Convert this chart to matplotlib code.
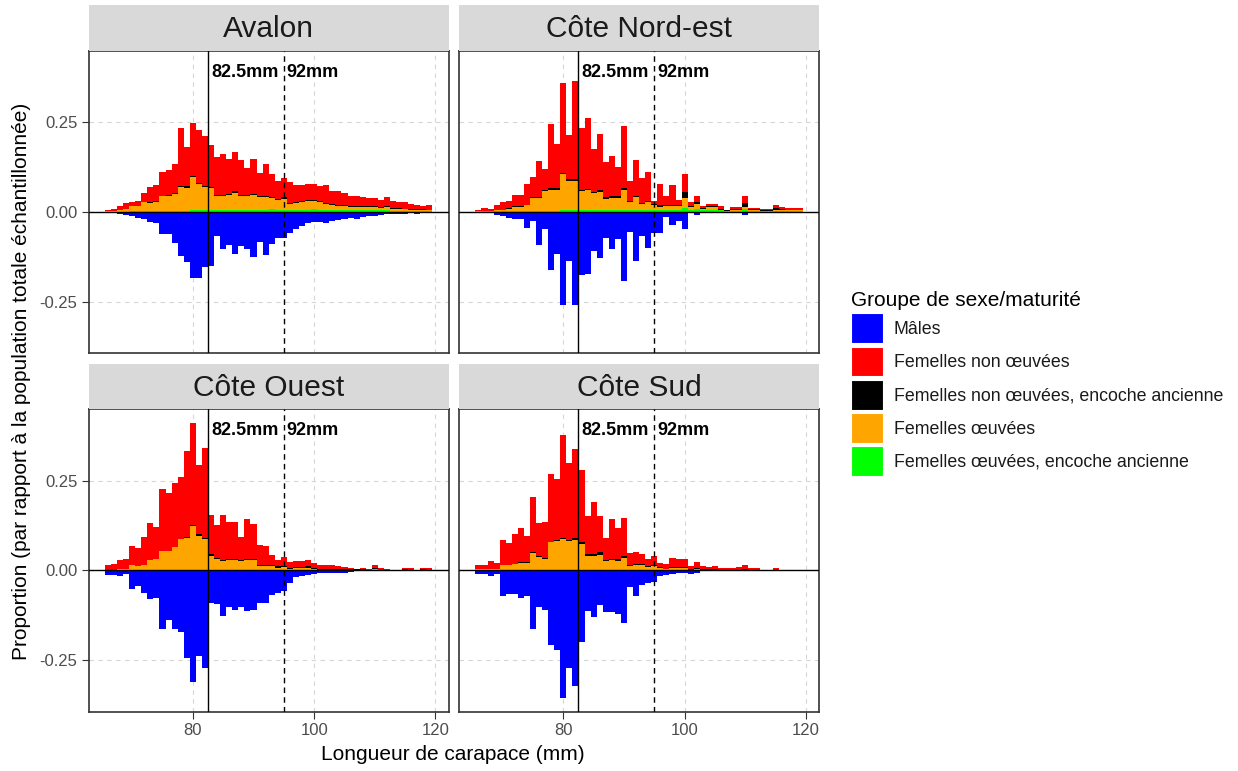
import matplotlib
matplotlib.use("Agg")
import matplotlib.pyplot as plt
from matplotlib.patches import Patch
import numpy as np

plt.rcParams["font.family"] = ["Liberation Sans", "DejaVu Sans"]
plt.rcParams["axes.unicode_minus"] = False

# carapace length bins (mm)
LENGTHS = np.arange(66, 120)

REGIONS = ["Avalon", "Côte Nord-est", "Côte Ouest", "Côte Sud"]
GROUPS = ["Mâles", "Femelles non œuvées", "Femelles non œuvées, encoche ancienne",
          "Femelles œuvées", "Femelles œuvées, encoche ancienne"]
COLORS = ["#0000FF", "#FF0000", "#000000", "#FFA500", "#00FF00"]

# --- Avalon ---
avalon_males = [.001, .002, .005, .009, .011, .017, .021, .028, .030, .061, .061, .086, .122, .141,
                .185, .185, .155, .150, .067, .104, .093, .117, .095, .104, .125, .084, .120, .090,
                .072, .074, .060, .049, .040, .032, .029, .029, .030, .026, .023, .021, .017, .019,
                .015, .012, .011, .010, .007, .006, .006, .006, .004, .007, .003, .001]
avalon_nonoeuv = [.001, .005, .012, .017, .012, .014, .024, .042, .046, .065, .069, .081, .161, .110,
                  .147, .147, .137, .117, .105, .113, .096, .110, .096, .075, .096, .065, .088, .066,
                  .049, .054, .057, .047, .045, .044, .044, .042, .049, .034, .038, .033, .027, .027,
                  .024, .021, .023, .021, .024, .018, .017, .018, .014, .011, .009, .013]
avalon_nonoeuv_enc = [0, 0, 0, 0, 0, 0, .001, .002, .002, .002, .002, .003, .003, .004,
                      .004, .004, .003, .003, .003, .003, .004, .004, .003, .003, .004, .003, .004, .003,
                      .003, .004, .003, .003, .003, .003, .003, .003, .003, .003, .003, .003, .003, .003,
                      .003, .003, .003, .003, .004, .003, .002, .002, .002, .002, .002, .001]
avalon_oeuv = [.003, .003, .004, .008, .014, .014, .025, .023, .025, .040, .041, .046, .065, .064,
               .092, .072, .066, .062, .041, .041, .042, .049, .041, .039, .042, .036, .036, .028,
               .028, .031, .017, .019, .021, .023, .021, .021, .017, .016, .013, .011, .009, .009,
               .009, .009, .009, .006, .008, .005, .005, .004, .003, .003, .003, .002]
avalon_oeuv_enc = [0, 0, 0, 0, .001, .001, .001, .002, .002, .003, .003, .003, .003, .003,
                   .004, .004, .004, .004, .004, .004, .004, .004, .004, .004, .004, .004, .005, .009,
                   .005, .005, .005, .005, .005, .006, .008, .005, .005, .004, .004, .004, .004, .004,
                   .004, .004, .004, .004, .004, .003, .003, .003, .003, .003, .003, .003]

# --- Côte Nord-est ---
nordest_males = [.003, .003, .004, .009, .012, .017, .021, .021, .046, .026, .093, .049, .162, .118,
                 .260, .137, .260, .177, .174, .108, .130, .074, .104, .076, .193, .056, .136, .067,
                 .100, .060, .058, .014, .038, .026, .049, .003, .008, .002, .002, .002, .002, .001,
                 .001, .002, .009, .001, .001, .001, .001, .001, .001, .001, 0, 0]
nordest_nonoeuv = [.004, .007, .005, .014, .022, .020, .031, .031, .058, .058, .102, .059, .179, .125,
                   .251, .123, .273, .173, .198, .119, .156, .098, .112, .083, .173, .056, .099, .069,
                   .082, .008, .060, .025, .055, .014, .052, .012, .016, .007, .007, .007, .008, .002,
                   .006, .006, .018, .003, .002, .002, .002, .009, .006, .004, .004, .004]
nordest_nonoeuv_enc = [0, 0, 0, 0, .001, .001, .001, .001, .001, .002, .002, .002, .003, .003,
                       .003, .004, .003, .003, .004, .004, .005, .004, .004, .004, .004, .003, .004, .003,
                       .004, .004, .004, .003, .003, .004, .016, .003, .005, .002, .003, .003, .002, .002,
                       .003, .003, .012, .003, .003, .003, .003, .004, .003, .002, .002, .002]
nordest_oeuv = [.002, .002, .002, .004, .003, .007, .012, .012, .016, .035, .035, .055, .059, .059,
                .100, .082, .083, .053, .056, .047, .051, .032, .035, .035, .056, .023, .037, .018,
                .022, .014, .010, .011, .012, .010, .028, .006, .014, .003, .006, .006, .002, 0,
                .002, .002, .006, .002, .002, .001, .001, .003, .003, .002, .002, .002]
nordest_oeuv_enc = [0, .001, .001, .001, .002, .002, .002, .002, .003, .003, .003, .003, .003, .003,
                    .004, .004, .004, .004, .004, .004, .004, .004, .004, .004, .005, .004, .004, .004,
                    .004, .004, .004, .004, .005, .006, .010, .006, .008, .005, .006, .006, .004, .002,
                    .003, .003, .007, .003, .003, .002, .002, .003, .002, .002, .002, .002]

# --- Côte Ouest ---
ouest_males = [.012, .012, .016, .009, .053, .044, .062, .079, .077, .164, .138, .164, .171, .245,
               .310, .238, .271, .091, .093, .127, .103, .110, .103, .112, .110, .091, .091, .068,
               .064, .058, .034, .019, .015, .013, .009, .006, .007, .007, .007, .008, .004, .002,
               .002, .001, .001, .001, .001, 0, 0, 0, 0, 0, 0, 0]
ouest_nonoeuv = [.016, .019, .025, .028, .053, .049, .078, .101, .088, .171, .160, .178, .171, .239,
                 .285, .192, .251, .107, .091, .123, .102, .103, .063, .111, .095, .055, .052, .029,
                 .018, .024, .015, .016, .016, .016, .014, .011, .011, .011, .008, .007, .003, .002,
                 .003, .002, .008, .005, .003, 0, 0, .002, .004, 0, .002, .004]
ouest_nonoeuv_enc = [0, 0, 0, 0, 0, 0, .001, .001, .001, .001, .001, .001, .002, .002,
                     .002, .003, .004, .005, .004, .004, .004, .004, .005, .005, .005, .004, .004, .004,
                     .004, .004, .003, .003, .003, .004, .003, .003, .003, .003, .003, .003, .003, .003,
                     .003, .002, .003, .002, .002, .002, 0, .002, .002, 0, .002, 0]
ouest_oeuv = [0, 0, .003, .005, .014, .012, .014, .029, .032, .054, .054, .064, .086, .091,
              .123, .097, .086, .041, .031, .026, .029, .028, .025, .026, .028, .011, .011, .011,
              .008, .009, .005, .007, .007, .008, .004, .002, .002, 0, 0, 0, 0, 0,
              0, 0, .002, 0, 0, 0, 0, .002, 0, 0, .002, .002]
ouest_oeuv_enc = [0, 0, 0, 0, 0, 0, 0, 0, 0, 0, 0, 0, 0, 0,
                  0, 0, 0, 0, 0, 0, 0, 0, 0, .002, 0, 0, 0, 0,
                  0, 0, 0, 0, 0, 0, 0, 0, 0, 0, 0, 0, 0, 0,
                  0, 0, .001, 0, 0, 0, 0, 0, 0, 0, 0, 0]

# --- Côte Sud ---
sud_males = [.011, .011, .017, .009, .072, .065, .065, .077, .070, .164, .103, .110, .208, .222,
             .355, .271, .322, .199, .112, .131, .097, .115, .115, .121, .146, .047, .070, .042,
             .035, .033, .016, .014, .009, .007, .006, .009, .007, .002, .001, .001, .001, 0,
             0, 0, 0, 0, 0, 0, 0, 0, 0, 0, 0, 0]
sud_nonoeuv = [.012, .012, .023, .015, .069, .062, .084, .095, .073, .153, .093, .101, .188, .169,
               .287, .214, .249, .200, .105, .145, .100, .059, .111, .085, .105, .034, .032, .028,
               .020, .025, .010, .014, .024, .021, .021, .010, .017, .008, .006, .008, .005, .004,
               .004, .007, .011, .005, .004, 0, 0, .004, 0, 0, 0, 0]
sud_nonoeuv_enc = [0, 0, 0, 0, 0, 0, 0, .001, .001, .002, .002, .002, .002, .003,
                   .003, .004, .006, .006, .005, .005, .006, .004, .005, .005, .006, .003, .004, .003,
                   .003, .004, .003, .002, .003, .003, .003, .001, .003, .002, .002, .002, .002, .002,
                   .002, .002, .003, .002, .002, 0, 0, .002, 0, 0, 0, 0]
sud_oeuv = [.003, .003, .003, .005, .015, .015, .017, .021, .021, .048, .038, .033, .078, .082,
            .087, .081, .084, .074, .040, .040, .044, .026, .028, .027, .034, .012, .014, .014,
            .009, .011, .007, .003, .007, .007, .007, .002, .003, .002, .001, .001, 0, 0,
            0, 0, .001, 0, 0, 0, 0, 0, 0, 0, 0, 0]
sud_oeuv_enc = [0] * 54

DATA = {
    "Avalon": [avalon_males, avalon_nonoeuv, avalon_nonoeuv_enc, avalon_oeuv, avalon_oeuv_enc],
    "Côte Nord-est": [nordest_males, nordest_nonoeuv, nordest_nonoeuv_enc, nordest_oeuv, nordest_oeuv_enc],
    "Côte Ouest": [ouest_males, ouest_nonoeuv, ouest_nonoeuv_enc, ouest_oeuv, ouest_oeuv_enc],
    "Côte Sud": [sud_males, sud_nonoeuv, sud_nonoeuv_enc, sud_oeuv, sud_oeuv_enc],
}

SIZE_LIMITS = [82.5, 95]
LIMIT_LABELS = ["82.5mm", "92mm"]
LABEL_Y = 0.388

GRID = "#D6D6D6"
DARK = "#333333"
TICK_TXT = "#4D4D4D"
STRIP = "#D9D9D9"

# figure-pixel layout
W, H = 1238, 771
COL_X = [88.5, 459]
COL_W = 360.3
ROW_TOP = [50.7, 409.3]
ROW_H = 302.4
STRIP_H = 45.5


def main():
    fig = plt.figure(figsize=(W / 100, H / 100), dpi=100)

    # shared scales (ggplot-like 5 % expansion)
    x_lo, x_hi = LENGTHS[0] - 0.5, LENGTHS[-1] + 0.5
    xpad = 0.05 * (x_hi - x_lo)
    tops, bots = [], []
    for reg in REGIONS:
        m, *fem = DATA[reg]
        tops.append(np.sum(np.array(fem), axis=0).max())
        bots.append(-np.max(m))
    y_lo, y_hi = min(bots), max(tops)
    ypad = 0.05 * (y_hi - y_lo)

    for i, reg in enumerate(REGIONS):
        r, c = divmod(i, 2)
        x0 = COL_X[c] / W
        y0 = 1 - (ROW_TOP[r] + ROW_H) / H
        ax = fig.add_axes([x0, y0, COL_W / W, ROW_H / H])

        males, nonoeuv, nonoeuv_enc, oeuv, oeuv_enc = [np.array(v) for v in DATA[reg]]
        ax.bar(LENGTHS, -males, width=1.0, color=COLORS[0], linewidth=0)
        bottom = np.zeros(len(LENGTHS))
        # stacking order from the axis upward: green, orange, black, red
        for vals, col in [(oeuv_enc, COLORS[4]), (oeuv, COLORS[3]),
                          (nonoeuv_enc, COLORS[2]), (nonoeuv, COLORS[1])]:
            ax.bar(LENGTHS, vals, bottom=bottom, width=1.0, color=col, linewidth=0)
            bottom = bottom + vals

        ax.axhline(0, color="black", lw=1.0, zorder=3)
        ax.axvline(SIZE_LIMITS[0], color="black", lw=1.0, zorder=3)
        ax.axvline(SIZE_LIMITS[1], color="black", lw=1.0, ls=(0, (4, 3)), zorder=3)
        for xv, lab in zip(SIZE_LIMITS, LIMIT_LABELS):
            ax.text(xv + 0.5, LABEL_Y, lab, ha="left", va="center",
                    fontsize=13, fontweight="bold", color="black", zorder=4)

        ax.set_xlim(x_lo - xpad, x_hi + xpad)
        ax.set_ylim(y_lo - ypad, y_hi + ypad)
        ax.set_xticks([80, 100, 120])
        ax.set_yticks([-0.25, 0.0, 0.25])
        ax.set_yticklabels([f"{v:.2f}" for v in [-0.25, 0.0, 0.25]])
        ax.set_axisbelow(True)
        ax.grid(True, color=GRID, lw=0.8, ls=(0, (4, 4)))
        for sp in ax.spines.values():
            sp.set_color(DARK)
            sp.set_linewidth(1.2)
        ax.tick_params(length=5, width=0.8, color=DARK, labelcolor=TICK_TXT,
                       labelsize=12, pad=3)
        if r == 0:
            ax.tick_params(axis="x", bottom=False, labelbottom=False)
        if c == 1:
            ax.tick_params(axis="y", left=False, labelleft=False)

        # facet strip
        sax = fig.add_axes([x0, 1 - ROW_TOP[r] / H, COL_W / W, STRIP_H / H])
        sax.set_facecolor(STRIP)
        sax.set_xticks([])
        sax.set_yticks([])
        for sp in sax.spines.values():
            sp.set_visible(False)
        sax.text(0.5, 0.47, reg, ha="center", va="center", fontsize=21.5,
                 color="#1A1A1A", transform=sax.transAxes)

    fig.text(453 / W, 1 - 755 / H, "Longueur de carapace (mm)", ha="center", va="center",
             fontsize=15, color="black")
    fig.text(22 / W, 1 - 381 / H,
             "Proportion (par rapport à la population totale échantillonnée)",
             ha="center", va="center", rotation=90, fontsize=15, color="black")

    handles = [Patch(facecolor=col, edgecolor="white", linewidth=0.8) for col in COLORS]
    leg = fig.legend(handles, GROUPS, title="Groupe de sexe/maturité",
                     loc="upper left", bbox_to_anchor=(842 / W, 1 - 282 / H),
                     frameon=False, fontsize=12.8, title_fontsize=15,
                     handlelength=1.8, handleheight=2.21, labelspacing=0.19,
                     handletextpad=0.6, borderpad=0, alignment="left")
    for t in leg.get_texts():
        t.set_color("#1A1A1A")

    fig.savefig("out.png", dpi=100)


if __name__ == "__main__":
    main()
